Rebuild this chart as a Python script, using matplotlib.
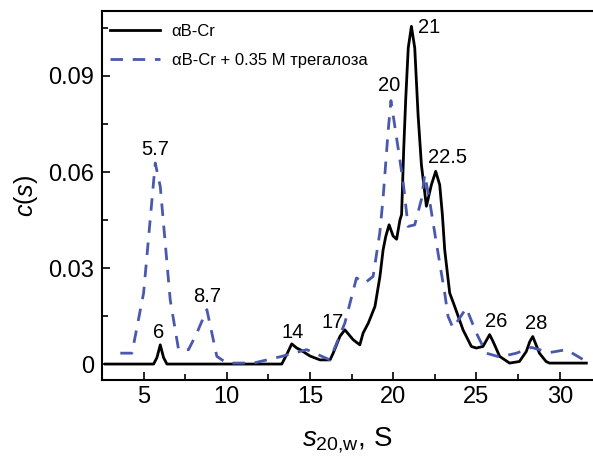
import numpy as np
import matplotlib.pyplot as plt
from matplotlib.ticker import MultipleLocator

plt.rcParams['font.family'] = ['Liberation Sans', 'DejaVu Sans']
plt.rcParams['mathtext.fontset'] = 'custom'
plt.rcParams['mathtext.it'] = 'Liberation Sans:italic'
plt.rcParams['mathtext.rm'] = 'Liberation Sans'

BLACK = "#000000"
BLUE = "#4a58ad"

# aB-Cr, no additive
s_cr = [2.7, 5.6, 5.8, 6.0, 6.2, 6.4, 13.3, 13.6, 13.9, 14.2, 14.4, 15.0, 15.6, 16.2,
        16.39, 16.79, 17.09, 17.59, 17.99, 18.19, 18.5, 18.9, 19.2, 19.39, 19.55, 19.75,
        19.99, 20.2, 20.4, 20.5, 20.63, 20.75, 20.9, 21.09, 21.29, 21.49, 21.69, 21.99,
        22.29, 22.55, 22.79, 22.95, 23.09, 23.39, 23.69, 24.19, 24.69, 24.99, 25.39, 25.79,
        26.0, 26.39, 26.99, 27.58, 27.99, 28.2, 28.38, 28.78, 29.18, 29.38, 31.6]
c_cr = [0.0, 0.0, 0.002, 0.006, 0.002, 0.0, 0.0, 0.003, 0.0063, 0.005, 0.0045, 0.0025, 0.0013,
        0.0013, 0.0034, 0.0086, 0.0107, 0.0076, 0.0060, 0.0097, 0.0128, 0.018, 0.0274, 0.0357,
        0.0399, 0.0435, 0.040, 0.039, 0.045, 0.0467, 0.0675, 0.083, 0.0988, 0.1055, 0.0988,
        0.0779, 0.0623, 0.0493, 0.056, 0.0602, 0.056, 0.0467, 0.0357, 0.0222, 0.018, 0.0107,
        0.0055, 0.005, 0.0055, 0.0092, 0.007, 0.0024, 0.0003, 0.0008, 0.0039, 0.007, 0.0086,
        0.0034, 0.0008, 0.0003, 0.0003]

# aB-Cr + 0.35 M trehalose
s_tr = [3.6, 4.3, 5.0, 5.7, 6.0, 6.6, 7.1, 7.7, 8.2, 8.8, 9.4, 10.0, 11.6, 13.3, 14.0, 14.8,
        16.19, 17.09, 17.79, 18.29, 18.79, 19.19, 19.39, 19.69, 19.86, 20.29, 20.59, 20.89,
        21.29, 21.69, 21.89, 22.19, 22.59, 23.09, 23.29, 23.59, 24.39, 24.99, 25.59, 26.39,
        27.4, 28.3, 29.4, 30.4, 31.6]
c_tr = [0.0034, 0.0034, 0.0222, 0.0628, 0.0555, 0.020, 0.0045, 0.0045, 0.0097, 0.017, 0.0024,
        0.0003, 0.0003, 0.0024, 0.0034, 0.0045, 0.0013, 0.0128, 0.0269, 0.0253, 0.0274, 0.041,
        0.052, 0.0727, 0.0823, 0.0675, 0.057, 0.043, 0.0435, 0.0514, 0.0592, 0.0508, 0.0378,
        0.0222, 0.0149, 0.0113, 0.0175, 0.0097, 0.0034, 0.0022, 0.0034, 0.0052, 0.0036,
        0.0045, 0.0008]

# peak annotations: text, x, y (data coords, text centre)
peak_text = ["5.7", "8.7", "6", "14", "17", "20", "21", "22.5", "26", "28"]
peak_x = [5.71, 8.8, 5.9, 13.98, 16.37, 19.73, 22.13, 23.27, 26.2, 28.6]
peak_y = [0.067, 0.0210, 0.0098, 0.0098, 0.0129, 0.087, 0.1051, 0.0645, 0.0132, 0.0126]

fig = plt.figure(figsize=(5.93, 4.59), dpi=100)
ax = fig.add_axes([0.172, 0.172, 0.828, 0.804])

ax.plot(s_cr, c_cr, color=BLACK, lw=2.0, label="αB-Cr", solid_joinstyle="round")
ax.plot(s_tr, c_tr, color=BLUE, lw=2.0, dashes=(4.5, 3.5), label="αB-Cr + 0.35 M трегалоза")

for t, x, y in zip(peak_text, peak_x, peak_y):
    ax.text(x, y, t, fontsize=14.5, ha="center", va="center")

ax.set_xlim(2.5, 32.0)
ax.set_ylim(-0.005, 0.1103)
ax.xaxis.set_major_locator(MultipleLocator(5))
ax.xaxis.set_minor_locator(MultipleLocator(2.5))
ax.yaxis.set_minor_locator(MultipleLocator(0.015))
ax.set_yticks([0, 0.03, 0.06, 0.09])
ax.set_yticklabels(["0", "0.03", "0.06", "0.09"])
ax.tick_params(which="both", direction="in", width=1.2, labelsize=17, top=False, right=False)
ax.tick_params(which="major", length=6)
ax.tick_params(which="minor", length=4)
ax.tick_params(axis="x", pad=4)
ax.tick_params(axis="y", pad=5.5)

for side in ["left", "bottom", "top"]:
    ax.spines[side].set_linewidth(1.5)
ax.spines["right"].set_visible(False)

ax.set_xlabel(r"$s_{\mathregular{20{,}w}}$, S", fontsize=20, labelpad=13)
ax.set_ylabel(r"$c(s)$", fontsize=18, labelpad=6)

ax.legend(loc="upper left", frameon=False, fontsize=12, handlelength=3.0,
          handletextpad=0.7, labelspacing=0.85, borderpad=0, borderaxespad=0,
          bbox_to_anchor=(110 / 593, 1 - 24 / 459), bbox_transform=fig.transFigure)

fig.savefig("out.png", dpi=100)
